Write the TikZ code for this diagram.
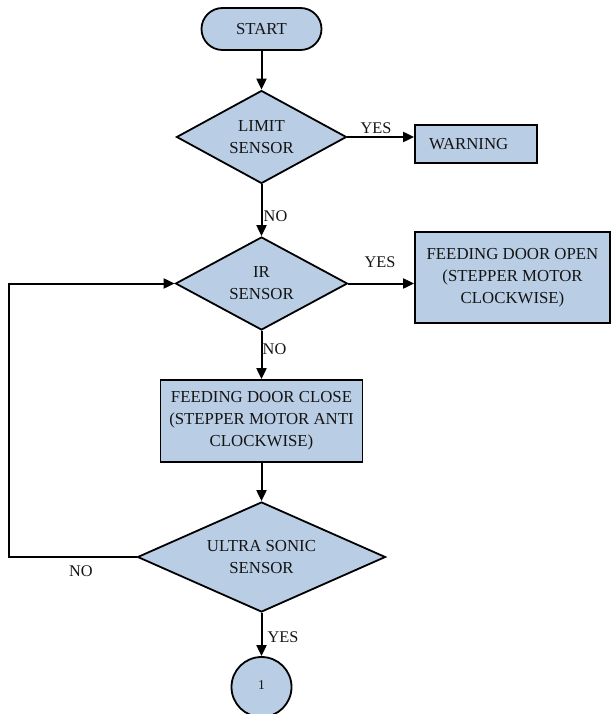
\documentclass[tikz,border=0pt]{standalone}
\usepackage{fontspec}
\setmainfont{Liberation Serif}
\usetikzlibrary{shapes.geometric,arrows.meta}

\definecolor{boxfill}{HTML}{B9CDE5}
\definecolor{inkcol}{HTML}{141414}

\tikzset{
  base/.style={draw=black, line width=1.8pt, fill=boxfill, text=inkcol,
               font=\fontsize{16.8}{22}\selectfont, align=center, inner sep=0pt},
  terminal/.style={base, rectangle, rounded corners=21pt,
                   minimum width=120pt, minimum height=42pt},
  decision/.style={base, diamond, aspect=1.8},
  process/.style={base, rectangle},
  connector/.style={base, circle, minimum size=60pt, font=\fontsize{13.5}{15}\selectfont},
  flow/.style={draw=black, line width=2pt,
               -{Triangle[length=11pt,width=10pt]}},
  lbl/.style={text=inkcol, font=\fontsize{16.3}{18}\selectfont, inner sep=0pt}
}

\begin{document}
\begin{tikzpicture}[x=1pt, y=-1pt]
  \useasboundingbox (0,0) rectangle (612,714);

  % flowchart nodes
  \node[terminal] (start) at (261.5,29) {START};
  \node[decision, minimum width=170pt, minimum height=93pt] (limit) at (261.5,137)
       {LIMIT\\SENSOR};
  \node[process, minimum width=122pt, minimum height=38pt,
        text width=94pt, align=left, inner xsep=14pt] (warn) at (476,144) {WARNING};
  \node[decision, minimum width=172pt, minimum height=93pt] (ir) at (261.5,283.5)
       {IR\\SENSOR};
  \node[process, minimum width=195pt, minimum height=91pt] (open) at (512.5,277.5)
       {FEEDING DOOR OPEN\\(STEPPER MOTOR\\CLOCKWISE)};
  \node[process, minimum width=202pt, minimum height=82pt] (close) at (261.5,421)
       {FEEDING DOOR CLOSE\\(STEPPER MOTOR ANTI\\CLOCKWISE)};
  \node[decision, aspect=2.25, minimum width=248pt, minimum height=110pt] (us) at (261.5,557)
       {ULTRA SONIC\\SENSOR};
  \node[connector] (one) at (261.5,687) {\raisebox{4pt}{1}};

  % corner of the feedback loop
  \coordinate (loopc) at (9,557);

  % connectors
  \draw[flow] (start) -- (limit);
  \draw[flow] (limit.east) -- (limit.east -| warn.west);
  \draw[flow] (limit) -- (ir);
  \draw[flow] (ir.east) -- (ir.east -| open.west);
  \draw[flow] (ir) -- (close);
  \draw[flow] (close) -- (us);
  \draw[flow] (us) -- (one);
  \draw[flow] (us.west) -- (loopc) |- (ir.west);

  % branch labels
  \node[lbl] (yes1) at (376,128) {YES};
  \node[lbl] (no1) at (275.5,216) {NO};
  \node[lbl] (yes2) at (380,262) {YES};
  \node[lbl] (no2) at (274.5,349) {NO};
  \node[lbl] (no3) at (81,571) {NO};
  \node[lbl] (yes3) at (283,637) {YES};
\end{tikzpicture}
\end{document}
